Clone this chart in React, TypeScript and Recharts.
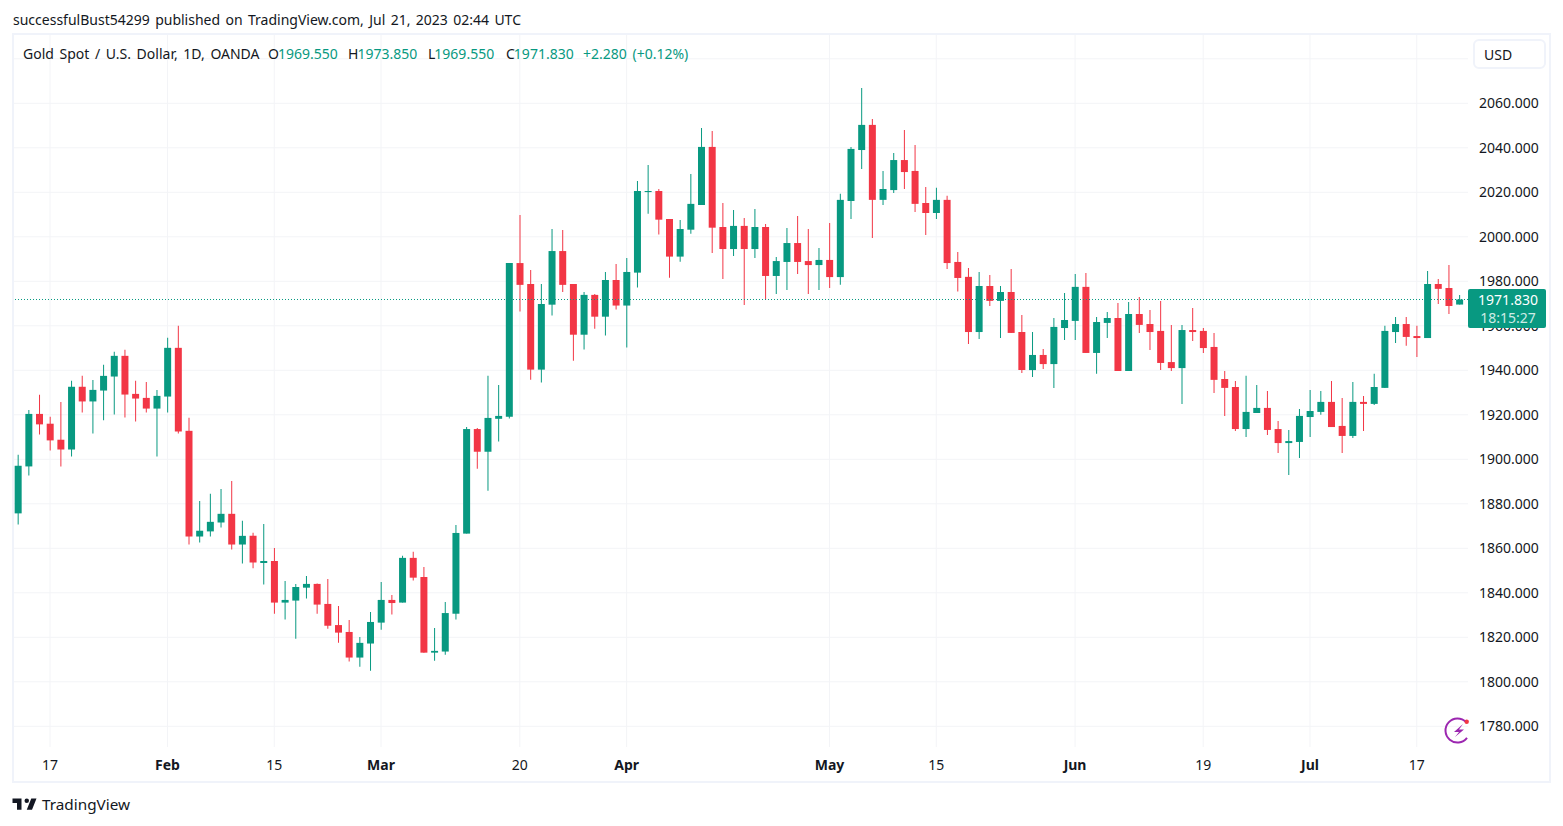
import { Bar, CartesianGrid, Cell, ComposedChart, ReferenceLine, XAxis, YAxis } from "recharts"

const opens = [
    1875.7, 1896.8, 1920.4, 1916, 1908.8, 1904.4, 1932.6, 1926, 1930.9, 1937.2, 1946.5, 1929.4, 1927.6, 1922.8,
    1928.2, 1950.1, 1912.8, 1865.3, 1867.6, 1871.6, 1875.5, 1861.7, 1865.6, 1853.4, 1854.3, 1835.6, 1836.5, 1842.3,
    1844, 1835, 1825.5, 1822.4, 1810.9, 1817.2, 1826.6, 1836.8, 1835.6, 1855.7, 1847.1, 1813.1, 1813.6, 1830.6,
    1866.6, 1913.6, 1903.4, 1918.2, 1919.1, 1988.2, 1978.8, 1940.3, 1969.5, 1993.6, 1978.8, 1956, 1973.9, 1964.1,
    1980.6, 1969.1, 1983.9, 2020.1, 2020.6, 2008, 1991.1, 2003.2, 2014.3, 2040.4, 2004.4, 1994.5, 2004.9, 1994.5,
    2004.4, 1982.4, 1988.7, 1997.2, 1989.1, 1987.3, 1989.6, 1981.9, 2016.1, 2039, 2050.3, 2016.6, 2021, 2034.5,
    2029.6, 2015.2, 2010.7, 2016.6, 1988.7, 1982, 1957.2, 1977.9, 1971.2, 1975.2, 1957.2, 1940.1, 1946.9, 1942.8,
    1959, 1962.2, 1977.5, 1947.8, 1961.3, 1963.5, 1939.7, 1965.3, 1960.8, 1957.7, 1943.7, 1941, 1958.1, 1957.7,
    1950.5, 1936.1, 1932.5, 1913.6, 1920.8, 1923.1, 1913.6, 1907.3, 1907.8, 1919, 1921.3, 1925.8, 1915, 1910.5,
    1925.8, 1924.9, 1932.1, 1957.2, 1960.8, 1955.4, 1954.5, 1978.8, 1977, 1969.55,
]
const closes = [
    1897.1, 1920.4, 1915.7, 1908.5, 1904.4, 1932.6, 1926, 1931.2, 1937.5, 1946.5, 1929.1, 1927.3, 1922.8, 1928.5,
    1950.1, 1912.5, 1865.3, 1867.9, 1871.9, 1875.5, 1861.7, 1865.6, 1853.6, 1854.3, 1835.6, 1836.8, 1842.6, 1844,
    1834.7, 1825.2, 1822.1, 1810.9, 1817.5, 1826.9, 1836.8, 1835.4, 1855.7, 1846.8, 1813.1, 1813.9, 1830.9, 1866.9,
    1913.6, 1903.4, 1918.6, 1919.5, 1988.2, 1978.4, 1940.3, 1969.8, 1993.6, 1978.4, 1956, 1973.9, 1964.1, 1980.6,
    1969.1, 1984.2, 2020.6, 2020.6, 2007.7, 1991.1, 2003.5, 2014.8, 2040.4, 2004.1, 1994.5, 2004.9, 1994.5, 2004.4,
    1982.4, 1989.1, 1997.2, 1988.7, 1987.3, 1989.6, 1981.9, 2016.6, 2039.5, 2050.3, 2016.6, 2021.5, 2034.5, 2029.1,
    2014.8, 2010.7, 2016.6, 1988.2, 1981.5, 1957.2, 1977.9, 1971.2, 1975.2, 1956.8, 1940.1, 1946.9, 1942.8, 1959.5,
    1962.6, 1977.5, 1947.8, 1961.7, 1963.5, 1939.7, 1965.3, 1960.4, 1957.2, 1943.3, 1941, 1958.1, 1957.2, 1950,
    1935.7, 1932.1, 1913.6, 1921.3, 1923.1, 1913.2, 1907.3, 1908.2, 1919.5, 1921.7, 1925.8, 1914.5, 1910.5, 1925.8,
    1924.9, 1932.5, 1957.7, 1960.8, 1955, 1954.5, 1978.8, 1976.6, 1968.9, 1971.83,
]
const highs = [
    1902, 1922.2, 1929, 1919.1, 1925.8, 1935.3, 1937.5, 1935.7, 1942.5, 1948.3, 1949.2, 1935.3, 1934.8, 1931.2,
    1954.6, 1960, 1918.7, 1881.3, 1884.5, 1886.7, 1890.3, 1872.4, 1867, 1870.9, 1860.1, 1845.3, 1844, 1847.6,
    1844.2, 1846.2, 1834.1, 1827.8, 1820.1, 1831.4, 1844.9, 1839, 1856.6, 1858.4, 1851.6, 1824.2, 1835.9, 1870.5,
    1914.5, 1914.1, 1937.5, 1933.4, 1988.2, 2009.8, 1985.1, 1978.8, 2003.5, 2003.1, 1978.8, 1975.2, 1974.3, 1984.2,
    1987.8, 1990.5, 2025.1, 2032.3, 2021.5, 2008, 2007.6, 2028.2, 2048.9, 2047.6, 2015.2, 2012.1, 2008.5, 2012.5,
    2005.8, 1990.9, 2004, 2009.4, 2003.5, 1995, 2006.2, 2019.3, 2040.4, 2066.9, 2053, 2029.6, 2037.7, 2048,
    2041.3, 2022.4, 2022, 2018.4, 1993.2, 1986, 1984.2, 1982.8, 1977.9, 1985.5, 1964.9, 1957.2, 1949.6, 1963.5,
    1974.8, 1983.3, 1983.7, 1964, 1966.2, 1970.3, 1970.7, 1973, 1967.1, 1971.2, 1960.4, 1960.4, 1968, 1959,
    1956.8, 1939.7, 1935.2, 1937.5, 1933.4, 1930.7, 1917.2, 1913.2, 1922.6, 1931.2, 1930.7, 1935.2, 1927.6, 1934.8,
    1928.5, 1938.4, 1960, 1964, 1964, 1960, 1984.6, 1981, 1987.3, 1973.85,
]
const lows = [
    1870.7, 1892.7, 1911.2, 1904, 1896.8, 1901.3, 1921, 1911.6, 1917.5, 1920.1, 1918.8, 1917, 1921, 1901.3,
    1921, 1911.6, 1861.7, 1862.6, 1865.3, 1869.4, 1859.5, 1853.2, 1851, 1843.7, 1830.6, 1828, 1819.4, 1837.4,
    1830.6, 1823.9, 1817.6, 1809.1, 1806.8, 1805, 1823.4, 1830.2, 1835.6, 1845.5, 1813.1, 1809.5, 1812.2, 1828,
    1866.6, 1895.8, 1885.9, 1908, 1918.3, 1966.4, 1935.8, 1934.5, 1964.6, 1975.2, 1944.3, 1949.3, 1958.7, 1955.6,
    1967.3, 1950.2, 1977.2, 2010.4, 2001, 1981.6, 1988.8, 2001.4, 2014.3, 1992.7, 1981, 1991.4, 1969.4, 1990.5,
    1971.6, 1974.3, 1976.1, 1983.3, 1974.3, 1976.1, 1977, 1978.4, 2008, 2030.5, 1999.5, 2014.3, 2019.7, 2021.5,
    2011.2, 2000.8, 2008, 1985.5, 1975.4, 1951.8, 1954.1, 1968.9, 1954.5, 1956.8, 1938.8, 1937, 1940.6, 1932.1,
    1953.6, 1953.6, 1947.8, 1938.4, 1954.5, 1939.7, 1939.7, 1956.8, 1949.1, 1940.1, 1939.7, 1924.9, 1953.2, 1947.8,
    1929.8, 1919.5, 1912.7, 1910, 1920.8, 1910.9, 1902.8, 1893, 1900.6, 1910, 1920, 1914.5, 1902.8, 1909.6,
    1912.7, 1924.4, 1932.1, 1952.3, 1951, 1946, 1954.5, 1969.8, 1965.3, 1969.55,
]

const dateTicks = [3, 14, 24, 34, 47, 57, 76, 86, 99, 111, 121, 131]
const dateLabels = ["17", "Feb", "15", "Mar", "20", "Apr", "May", "15", "Jun", "19", "Jul", "17"]
const monthLabels = ["Feb", "Mar", "Apr", "May", "Jun", "Jul"]
const priceTicks = [
    1780, 1800, 1820, 1840, 1860, 1880, 1900, 1920, 1940, 1960, 1980, 2000, 2020, 2040, 2060, 2080,
]
const legendValues = [
    ["O", "1969.550", 268],
    ["H", "1973.850", 348],
    ["L", "1969.550", 428],
    ["C", "1971.830", 506],
]

const data = opens.map((open, i) => ({
    i,
    wick: [lows[i], highs[i]],
    body: [open, closes[i]],
}))

const UP = "#089981"
const DOWN = "#f23645"
const FONT = "'Noto Sans', sans-serif"
const TEXT = "#131722"

function DateTick({ x, y, payload }: any) {
    const label = dateLabels[dateTicks.indexOf(payload.value)]
    return (
        <text
            x={x}
            y={y}
            dy={15}
            textAnchor="middle"
            fontFamily={FONT}
            fontSize={14}
            fill={TEXT}
            fontWeight={monthLabels.includes(label) ? 700 : 400}
        >
            {label}
        </text>
    )
}

const abs = (left: number, top: number): any => ({
    position: "absolute",
    left,
    top,
    fontFamily: FONT,
    fontSize: 14,
    lineHeight: "20px",
    whiteSpace: "nowrap",
    color: TEXT,
})

export default function App() {
    return (
        <div style={{ position: "absolute", left: 0, top: 0, width: 1563, height: 826, background: "#fff", overflow: "hidden" }}>
            <div style={{ ...abs(13, 10), wordSpacing: 1.75 }}>
                successfulBust54299 published on TradingView.com, Jul 21, 2023 02:44 UTC
            </div>
            <div
                style={{
                    position: "absolute",
                    left: 12,
                    top: 33,
                    width: 1539,
                    height: 750,
                    boxSizing: "border-box",
                    border: "2px solid #f0f3fa",
                }}
            />
            <div style={{ position: "absolute", left: 0, top: 0 }}>
                <ComposedChart width={1563} height={826} data={data} margin={{ top: 35, right: 13, bottom: 44, left: 14 }}>
                    <CartesianGrid
                        xAxisId="body"
                        stroke="#f3f4f7"
                        verticalValues={dateTicks}
                        horizontalValues={priceTicks}
                    />
                    <XAxis
                        xAxisId="body"
                        dataKey="i"
                        type="number"
                        domain={[-0.375, 135.8]}
                        ticks={dateTicks}
                        interval={0}
                        height={35}
                        tickLine={false}
                        axisLine={false}
                        tick={<DateTick />}
                    />
                    <XAxis xAxisId="wick" dataKey="i" type="number" domain={[-0.375, 135.8]} hide />
                    <YAxis
                        orientation="right"
                        domain={[1770.7, 2090.7]}
                        ticks={priceTicks}
                        interval={0}
                        width={82}
                        tickLine={false}
                        axisLine={false}
                        tickMargin={5}
                        tick={{ fontFamily: FONT, fontSize: 14, fill: TEXT }}
                        tickFormatter={(v: number) => (v === 2080 ? "" : v.toFixed(3))}
                    />
                    <Bar xAxisId="wick" dataKey="wick" barSize={1} isAnimationActive={false}>
                        {data.map((d) => (
                            <Cell key={d.i} fill={closes[d.i] >= opens[d.i] ? UP : DOWN} />
                        ))}
                    </Bar>
                    <Bar xAxisId="body" dataKey="body" barSize={7} isAnimationActive={false}>
                        {data.map((d) => (
                            <Cell key={d.i} fill={closes[d.i] >= opens[d.i] ? UP : DOWN} />
                        ))}
                    </Bar>
                    <ReferenceLine xAxisId="body" y={1971.83} stroke={UP} strokeDasharray="1 2" />
                </ComposedChart>
            </div>
            <div
                style={{
                    ...abs(1468, 289),
                    width: 78,
                    height: 39,
                    borderRadius: 2,
                    background: UP,
                    textAlign: "center",
                    lineHeight: "18px",
                    padding: "2px 0 0 2px",
                    boxSizing: "border-box",
                }}
            >
                <div style={{ color: "#fff" }}>1971.830</div>
                <div style={{ color: "#cdebe5" }}>18:15:27</div>
            </div>
            <div style={{ ...abs(23, 44), wordSpacing: 2 }}>Gold Spot / U.S. Dollar, 1D, OANDA</div>
            {legendValues.map(([name, value, left]) => (
                <div key={name as string} style={abs(left as number, 44)}>
                    {name}
                    <span style={{ color: UP, marginLeft: -1 }}>{value}</span>
                </div>
            ))}
            <div style={{ ...abs(583, 44), color: UP, wordSpacing: 2 }}>+2.280 (+0.12%)</div>
            <div
                style={{
                    ...abs(1473, 39),
                    width: 73,
                    height: 30,
                    boxSizing: "border-box",
                    border: "2px solid #f0f3fa",
                    borderRadius: 6,
                    paddingLeft: 9,
                    lineHeight: "27px",
                    background: "#fff",
                }}
            >
                USD
            </div>
            <svg style={{ position: "absolute", left: 1444, top: 715 }} width={28} height={30} viewBox="0 0 28 30">
                <path d="M23 22.8 A12 12 0 1 1 22 7" fill="none" stroke="#9c27b0" strokeWidth={2} />
                <circle cx={22.7} cy={6.8} r={2.2} fill={DOWN} />
                <path d="M19 9 L10 17 H15 L11 22 L20 14.5 H15 Z" fill="#9c27b0" />
            </svg>
            <svg style={{ position: "absolute", left: 11, top: 793.5 }} width={27} height={21} viewBox="0 0 36 28">
                <path d="M14 6H2v6h6v9h6V6zm14 15h-7l6-15h7l-6 15zm-7-9a3 3 0 1 0 0-6 3 3 0 0 0 0 6z" fill={TEXT} />
            </svg>
            <div style={{ ...abs(42, 794), fontSize: 15.3 }}>TradingView</div>
        </div>
    )
}
